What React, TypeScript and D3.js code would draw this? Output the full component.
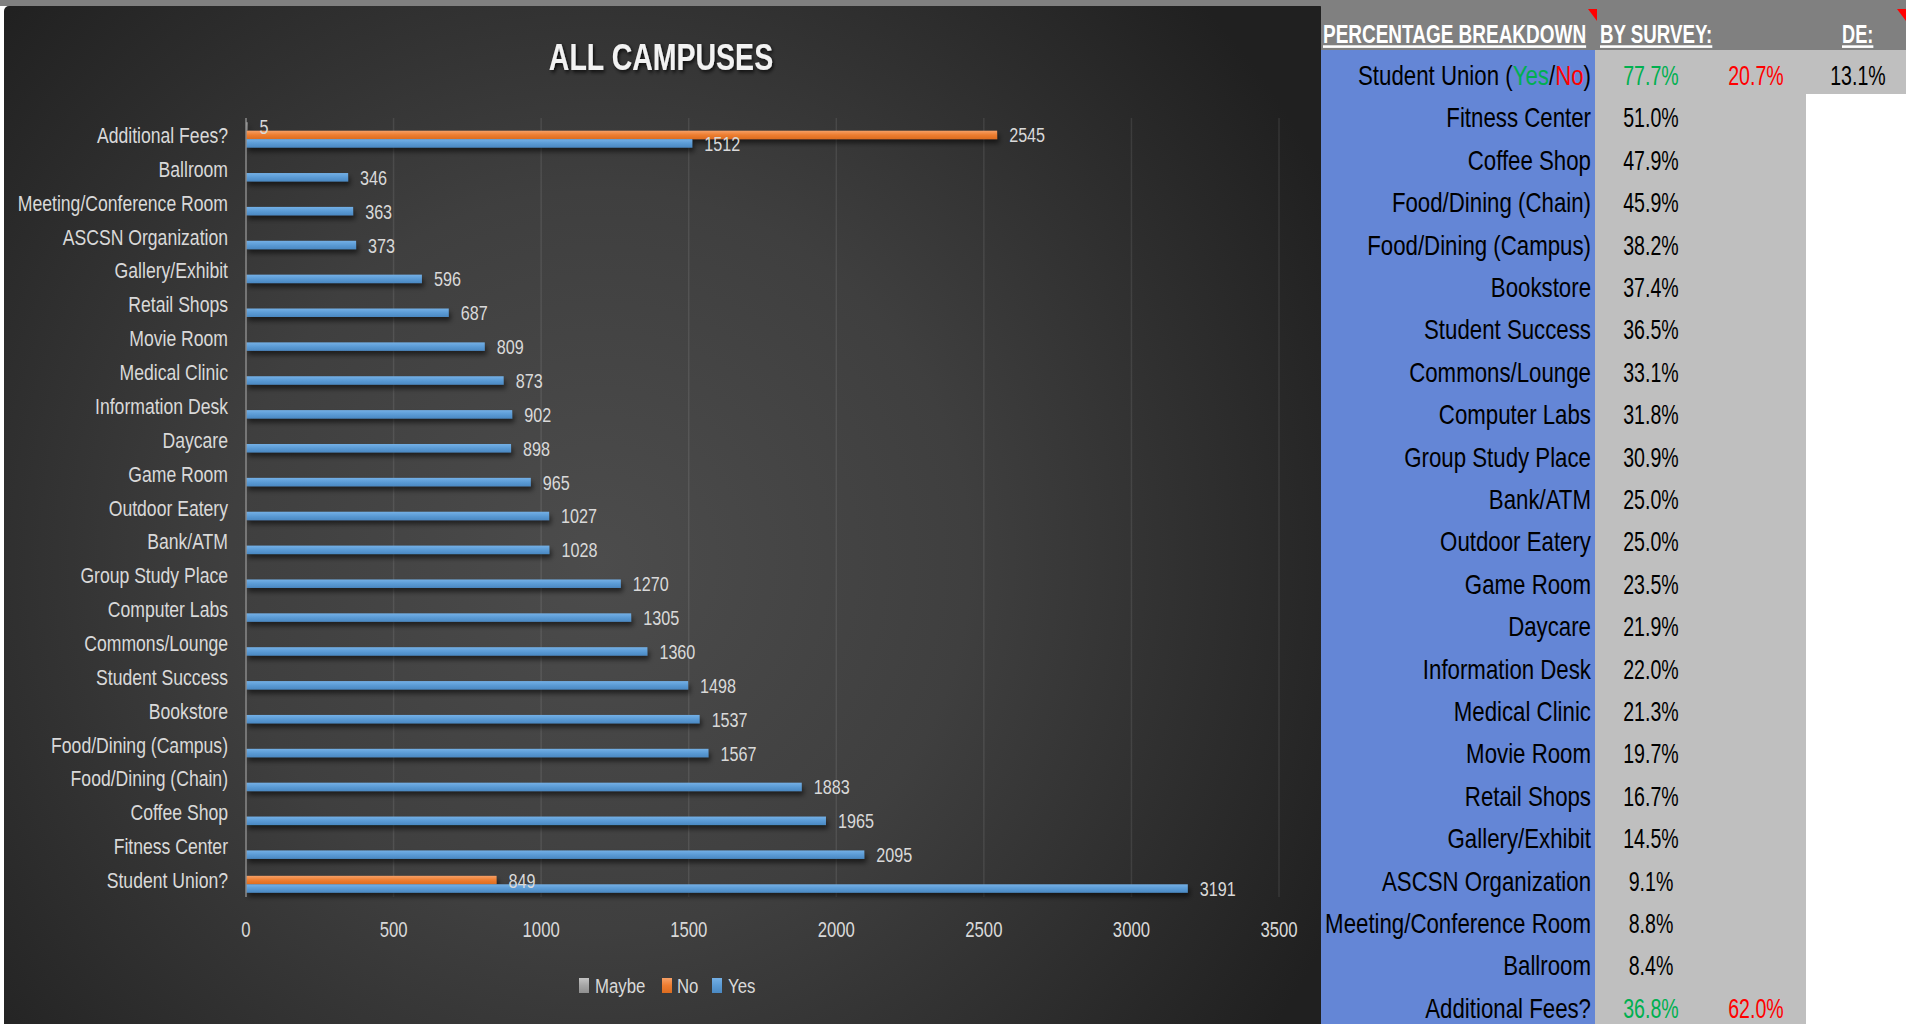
import React from "react";
import * as d3 from "d3";

// ---------- DATA ----------
const categories = [
  "Additional Fees?",
  "Ballroom",
  "Meeting/Conference Room",
  "ASCSN Organization",
  "Gallery/Exhibit",
  "Retail Shops",
  "Movie Room",
  "Medical Clinic",
  "Information Desk",
  "Daycare",
  "Game Room",
  "Outdoor Eatery",
  "Bank/ATM",
  "Group Study Place",
  "Computer Labs",
  "Commons/Lounge",
  "Student Success",
  "Bookstore",
  "Food/Dining (Campus)",
  "Food/Dining (Chain)",
  "Coffee Shop",
  "Fitness Center",
  "Student Union?",
];
const yesValues = [
  1512, 346, 363, 373, 596, 687, 809, 873, 902, 898, 965, 1027, 1028, 1270,
  1305, 1360, 1498, 1537, 1567, 1883, 1965, 2095, 3191,
];
const noValues: (number | null)[] = [
  2545, null, null, null, null, null, null, null, null, null, null, null, null,
  null, null, null, null, null, null, null, null, null, 849,
];
const maybeValues: (number | null)[] = [
  5, null, null, null, null, null, null, null, null, null, null, null, null,
  null, null, null, null, null, null, null, null, null, null,
];
const seriesNames = ["Maybe", "No", "Yes"];
const xTickValues = [0, 500, 1000, 1500, 2000, 2500, 3000, 3500];
const chartTitle = "ALL CAMPUSES";

const tableHeaders = ["PERCENTAGE BREAKDOWN", "BY SURVEY:", "DE:"];
const tableLabels = [
  "Student Union (Yes/No)",
  "Fitness Center",
  "Coffee Shop",
  "Food/Dining (Chain)",
  "Food/Dining (Campus)",
  "Bookstore",
  "Student Success",
  "Commons/Lounge",
  "Computer Labs",
  "Group Study Place",
  "Bank/ATM",
  "Outdoor Eatery",
  "Game Room",
  "Daycare",
  "Information Desk",
  "Medical Clinic",
  "Movie Room",
  "Retail Shops",
  "Gallery/Exhibit",
  "ASCSN Organization",
  "Meeting/Conference Room",
  "Ballroom",
  "Additional Fees?",
];
const tableYesPct = [
  "77.7%", "51.0%", "47.9%", "45.9%", "38.2%", "37.4%", "36.5%", "33.1%",
  "31.8%", "30.9%", "25.0%", "25.0%", "23.5%", "21.9%", "22.0%", "21.3%",
  "19.7%", "16.7%", "14.5%", "9.1%", "8.8%", "8.4%", "36.8%",
];
const tableNoPct: (string | null)[] = [
  "20.7%", null, null, null, null, null, null, null, null, null, null, null,
  null, null, null, null, null, null, null, null, null, null, "62.0%",
];
const tableDePct: (string | null)[] = [
  "13.1%", null, null, null, null, null, null, null, null, null, null, null,
  null, null, null, null, null, null, null, null, null, null, null,
];

// ---------- STYLE ----------
const FONT = "'Liberation Sans', Arial, sans-serif";
const seriesColor: Record<string, [string, string, string]> = {
  Maybe: ["#c4c4c4", "#a5a5a5", "#8f8f8f"],
  No: ["#f6a066", "#ed7d31", "#dc6c20"],
  Yes: ["#74b0e6", "#5b9bd5", "#4a88c2"],
};
const GREEN = "#00b050";
const RED = "#ff0000";
const LABEL = "#d9d9d9";

function T(props: {
  x: number;
  y: number;
  sx: number;
  size: number;
  anchor?: "start" | "middle" | "end";
  weight?: string | number;
  fill: string;
  deco?: string;
  filter?: string;
  children: React.ReactNode;
}) {
  const { x, y, sx, size, anchor = "start", weight = "normal", fill, deco, filter, children } = props;
  return (
    <g transform={`translate(${x},${y}) scale(${sx},1)`} filter={filter}>
      <text
        x={0}
        y={0}
        fontFamily={FONT}
        fontSize={size}
        fontWeight={weight}
        fill={fill}
        textAnchor={anchor}
        textDecoration={deco}
      >
        {children}
      </text>
    </g>
  );
}

export default function App() {
  const W = 1906;
  const H = 1024;
  const x = d3.scaleLinear().domain([0, 3500]).range([246, 1279]);
  const y = d3.scaleBand<string>().domain(categories).range([118, 897]).padding(0);
  const sub = d3
    .scaleBand<string>()
    .domain(seriesNames)
    .range([0, y.bandwidth()])
    .paddingInner(0)
    .paddingOuter(0.5);
  const bh = sub.bandwidth();

  const seriesData: Record<string, (number | null)[]> = {
    Maybe: maybeValues,
    No: noValues,
    Yes: yesValues,
  };

  // table geometry
  const tX0 = 1321;
  const tBlueEnd = 1595;
  const tGrayEnd = 1806;
  const headerH = 50;
  const row0Bottom = 94;
  const rowStep = 42.4;
  const row0Baseline = 85;
  const legendX = [579, 662, 712];
  const legendTextX = [595, 677, 728];

  return (
    <div style={{ position: "absolute", left: 0, top: 0, width: W, height: H, overflow: "hidden" }}>
      <svg width={W} height={H} style={{ display: "block" }}>
        <defs>
          <radialGradient id="bg" gradientUnits="userSpaceOnUse" cx={600} cy={560} r={820}>
            <stop offset="0" stopColor="#4c4c4c" />
            <stop offset="0.45" stopColor="#3f3f3f" />
            <stop offset="1" stopColor="#202020" />
          </radialGradient>
          {seriesNames.map((s) => (
            <linearGradient key={s} id={`g-${s}`} x1="0" y1="0" x2="0" y2="1">
              <stop offset="0" stopColor={seriesColor[s][0]} />
              <stop offset="0.5" stopColor={seriesColor[s][1]} />
              <stop offset="1" stopColor={seriesColor[s][2]} />
            </linearGradient>
          ))}
          <filter id="barShadow" x="-5%" y="-100%" width="110%" height="400%">
            <feDropShadow dx="2" dy="4" stdDeviation="2.5" floodColor="#000" floodOpacity="0.55" />
          </filter>
          <filter id="titleShadow" x="-10%" y="-30%" width="120%" height="180%">
            <feDropShadow dx="2" dy="2" stdDeviation="2" floodColor="#000" floodOpacity="0.8" />
          </filter>
        </defs>

        {/* page background */}
        <rect x={0} y={0} width={W} height={H} fill="#ffffff" />
        <rect x={0} y={0} width={W} height={6} fill="#808080" />

        {/* chart panel */}
        <rect x={4} y={6} width={tX0 - 4 + 4} height={H} rx={5} fill="url(#bg)" />

        {/* title */}
        <T x={661} y={70} sx={0.76} size={37.5} weight="bold" anchor="middle" fill="#f2f2f2" filter="url(#titleShadow)">
          {chartTitle}
        </T>

        {/* gridlines */}
        {xTickValues
          .filter((t) => t > 0)
          .map((t) => (
            <line
              key={`gl-${t}`}
              x1={x(t)}
              x2={x(t)}
              y1={118}
              y2={897}
              stroke="#ffffff"
              strokeOpacity={0.09}
              strokeWidth={1.5}
            />
          ))}

        {/* bars */}
        <g filter="url(#barShadow)">
          {seriesNames.map((s) =>
            categories.map((c, i) => {
              const v = seriesData[s][i];
              if (v == null) return null;
              return (
                <rect
                  key={`b-${s}-${i}`}
                  x={x(0)}
                  y={(y(c) as number) + (sub(s) as number)}
                  width={x(v) - x(0)}
                  height={bh}
                  fill={`url(#g-${s})`}
                />
              );
            })
          )}
        </g>

        {/* axis line */}
        <line x1={x(0)} x2={x(0)} y1={118} y2={897} stroke="#8a8a8a" strokeWidth={1.5} />

        {/* value labels */}
        {seriesNames.map((s) =>
          categories.map((c, i) => {
            const v = seriesData[s][i];
            if (v == null) return null;
            const cy = (y(c) as number) + (sub(s) as number) + bh / 2;
            return (
              <T key={`vl-${s}-${i}`} x={x(v) + 12} y={cy + 7.5} sx={0.77} size={21} fill={LABEL}>
                {String(v)}
              </T>
            );
          })
        )}

        {/* category labels */}
        {categories.map((c) => (
          <T
            key={`cl-${c}`}
            x={228}
            y={(y(c) as number) + y.bandwidth() / 2 + 8}
            sx={0.8}
            size={22}
            anchor="end"
            fill={LABEL}
          >
            {c}
          </T>
        ))}

        {/* x tick labels */}
        {xTickValues.map((t) => (
          <T key={`xt-${t}`} x={x(t)} y={937} sx={0.76} size={22} anchor="middle" fill={LABEL}>
            {String(t)}
          </T>
        ))}

        {/* legend */}
        {seriesNames.map((s, i) => (
          <g key={`lg-${s}`}>
            <rect x={legendX[i]} y={978} width={10} height={15} fill={`url(#g-${s})`} />
            <T x={legendTextX[i]} y={993} sx={0.8} size={21} fill={LABEL}>
              {s}
            </T>
          </g>
        ))}

        {/* ---------- TABLE ---------- */}
        <rect x={tX0} y={0} width={W - tX0} height={headerH} fill="#808080" />
        <rect x={tX0} y={headerH} width={tBlueEnd - tX0} height={H - headerH} fill="#6486d6" />
        <rect x={tBlueEnd} y={headerH} width={tGrayEnd - tBlueEnd} height={H - headerH} fill="#bfbfbf" />
        <rect x={tGrayEnd} y={headerH} width={W - tGrayEnd} height={row0Bottom - headerH} fill="#bfbfbf" />
        <rect x={tX0} y={0} width={W - tX0} height={6} fill="#808080" />

        {/* header */}
        <T x={1323} y={43} sx={0.73} size={26} weight="bold" fill="#ffffff" deco="underline">
          {tableHeaders[0]}
        </T>
        <T x={1600} y={43} sx={0.72} size={26} weight="bold" fill="#ffffff" deco="underline">
          {tableHeaders[1]}
        </T>
        <T x={1842} y={43} sx={0.7} size={26} weight="bold" fill="#ffffff" deco="underline">
          {tableHeaders[2]}
        </T>
        <polygon points="1588,9 1597,9 1597,21" fill="#ff0000" />
        <polygon points="1897,9 1906,9 1906,21" fill="#ff0000" />

        {/* rows */}
        {tableLabels.map((lab, i) => {
          const by = row0Baseline + i * rowStep;
          const hasNo = tableNoPct[i] != null;
          let labelNode: React.ReactNode = lab;
          const m = lab.match(/^(.*\()Yes\/No(\))$/);
          if (m) {
            labelNode = (
              <>
                <tspan>{m[1]}</tspan>
                <tspan fill={GREEN}>Yes</tspan>
                <tspan>/</tspan>
                <tspan fill={RED}>No</tspan>
                <tspan>{m[2]}</tspan>
              </>
            );
          }
          return (
            <g key={`row-${i}`}>
              <T x={1591} y={by} sx={0.795} size={28} anchor="end" fill="#000000">
                {labelNode}
              </T>
              <T x={1651} y={by} sx={0.7} size={28} anchor="middle" fill={hasNo ? GREEN : "#000000"}>
                {tableYesPct[i]}
              </T>
              {hasNo && (
                <T x={1756} y={by} sx={0.7} size={28} anchor="middle" fill={RED}>
                  {tableNoPct[i]}
                </T>
              )}
              {tableDePct[i] != null && (
                <T x={1858} y={by} sx={0.7} size={28} anchor="middle" fill="#000000">
                  {tableDePct[i]}
                </T>
              )}
            </g>
          );
        })}
      </svg>
    </div>
  );
}
